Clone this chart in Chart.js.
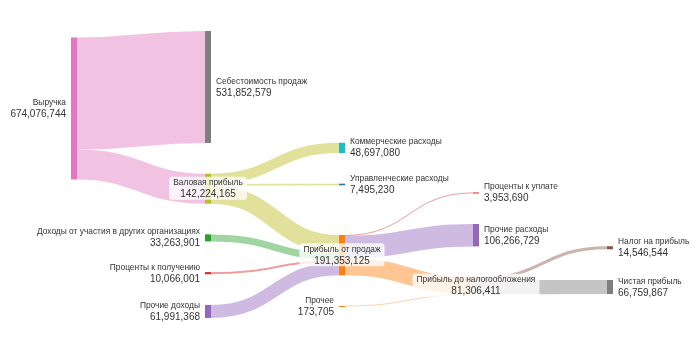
<!DOCTYPE html>
<html>
<head>
<meta charset="utf-8">
<script src="https://cdn.jsdelivr.net/npm/chart.js@4.4.1/dist/chart.umd.min.js"></script>
<style>
  body { margin: 0; background: #fff; }
  #wrap { width: 700px; height: 350px; }
</style>
</head>
<body>
<div id="wrap"><canvas id="sankeyCanvas"></canvas></div>
<script>
// Nodes of the P&L flow
const nodeNames = [
  'Выручка',
  'Себестоимость продаж',
  'Валовая прибыль',
  'Коммерческие расходы',
  'Управленческие расходы',
  'Прибыль от продаж',
  'Доходы от участия в других организациях',
  'Проценты к получению',
  'Прочие доходы',
  'Проценты к уплате',
  'Прочие расходы',
  'Прибыль до налогообложения',
  'Прочее',
  'Налог на прибыль',
  'Чистая прибыль'
];

// Links: source index, target index, value
const linkSources = [0, 0, 2, 2, 2, 6, 7, 8, 5, 5, 5, 12, 11, 11];
const linkTargets = [1, 2, 3, 4, 5, 5, 5, 5, 9, 10, 11, 11, 13, 14];
const linkValues = [
  531852579, 142224165,
  48697080, 7495230, 86031855,
  33263901, 10066001, 61991368,
  3953690, 106266729, 81132706,
  173705,
  14546544, 66759867
];

// Styles
const nodeColors = [
  '#e377c2', '#7f7f7f', '#bcbd22', '#17becf', '#1f77b4', '#ff7f0e', '#2ca02c',
  '#d62728', '#9467bd', '#d62728', '#9467bd', '#c7c7c7', '#ff7f0e', '#8c564b', '#7f7f7f'
];
const linkColors = [
  'rgba(227,119,194,0.45)', 'rgba(227,119,194,0.45)',
  'rgba(188,189,34,0.45)', 'rgba(188,189,34,0.45)', 'rgba(188,189,34,0.45)',
  'rgba(44,160,44,0.45)', 'rgba(214,39,40,0.45)', 'rgba(148,103,189,0.45)',
  'rgba(214,39,40,0.45)', 'rgba(148,103,189,0.45)', 'rgba(255,127,14,0.45)',
  'rgba(255,127,14,0.35)',
  'rgba(140,86,75,0.45)', 'rgba(127,127,127,0.45)'
];

const NODE_WIDTH = 6;      // px
const NODE_PAD = 0.107;    // fraction of the vertical extent
const LINK_SPREAD = 0;     // spread of links when relaxing
const ITERATIONS = 6;
const FONT = '"Liberation Sans", Arial, sans-serif';

const sum = (arr, f) => arr.reduce((s, d) => s + f(d), 0);

// Small d3-sankey style layout, done in value units (nodes keep input order in a column)
function buildSankey() {
  const nodes = nodeNames.map((name, i) => ({ index: i, name, color: nodeColors[i], sourceLinks: [], targetLinks: [] }));
  const links = linkValues.map((value, i) => ({
    index: i, value, color: linkColors[i],
    source: nodes[linkSources[i]], target: nodes[linkTargets[i]]
  }));
  links.forEach(l => { l.source.sourceLinks.push(l); l.target.targetLinks.push(l); });
  nodes.forEach(n => {
    n.value = Math.max(sum(n.sourceLinks, l => l.value), sum(n.targetLinks, l => l.value));
  });

  let current = new Set(nodes), depth = 0;
  while (current.size) {
    const next = new Set();
    current.forEach(n => { n.depth = depth; n.sourceLinks.forEach(l => next.add(l.target)); });
    current = next;
    depth++;
  }
  const nCols = Math.max(...nodes.map(n => n.depth)) + 1;
  // center alignment
  nodes.forEach(n => {
    n.layer = n.targetLinks.length ? n.depth
      : n.sourceLinks.length ? Math.min(...n.sourceLinks.map(l => l.target.depth)) - 1 : 0;
  });
  const columns = Array.from({ length: nCols }, () => []);
  nodes.forEach(n => columns[n.layer].push(n));

  const H = Math.max(...columns.map(c => sum(c, n => n.value) / (1 - (c.length - 1) * NODE_PAD)));
  const py = NODE_PAD * H;
  const ps = py * LINK_SPREAD;

  const byY = (a, b) => a.y0 - b.y0;
  const bySource = (a, b) => byY(a.source, b.source) || a.index - b.index;
  const byTarget = (a, b) => byY(a.target, b.target) || a.index - b.index;

  function reorderLinks(col) {
    col.forEach(n => { n.sourceLinks.sort(byTarget); n.targetLinks.sort(bySource); });
  }
  function reorderNodeLinks(n) {
    n.targetLinks.forEach(l => l.source.sourceLinks.sort(byTarget));
    n.sourceLinks.forEach(l => l.target.targetLinks.sort(bySource));
  }
  function targetTop(source, target) {
    let y = source.y0 - (source.sourceLinks.length - 1) * ps / 2;
    for (const l of source.sourceLinks) { if (l.target === target) break; y += l.width + ps; }
    for (const l of target.targetLinks) { if (l.source === source) break; y -= l.width; }
    return y;
  }
  function sourceTop(source, target) {
    let y = target.y0 - (target.targetLinks.length - 1) * ps / 2;
    for (const l of target.targetLinks) { if (l.source === source) break; y += l.width + ps; }
    for (const l of source.sourceLinks) { if (l.target === target) break; y -= l.width; }
    return y;
  }
  function topToBottom(col, y, i, alpha) {
    for (; i < col.length; ++i) {
      const n = col[i];
      const dy = (y - n.y0) * alpha;
      if (dy > 1e-6) { n.y0 += dy; n.y1 += dy; }
      y = n.y1 + py;
    }
  }
  function bottomToTop(col, y, i, alpha) {
    for (; i >= 0; --i) {
      const n = col[i];
      const dy = (n.y1 - y) * alpha;
      if (dy > 1e-6) { n.y0 -= dy; n.y1 -= dy; }
      y = n.y0 - py;
    }
  }
  function resolveCollisions(col, alpha) {
    const i = col.length >> 1;
    const subject = col[i];
    bottomToTop(col, subject.y0 - py, i - 1, alpha);
    topToBottom(col, subject.y1 + py, i + 1, alpha);
    bottomToTop(col, H, col.length - 1, alpha);
    topToBottom(col, 0, 0, alpha);
  }

  // initial breadths
  columns.forEach(col => {
    let y = 0;
    col.forEach(n => {
      n.y0 = y; n.y1 = y + n.value; y = n.y1 + py;
      n.sourceLinks.forEach(l => { l.width = l.value; });
    });
    const extra = (H - y + py) / (col.length + 1);
    col.forEach((n, i) => { n.y0 += extra * (i + 1); n.y1 += extra * (i + 1); });
    reorderLinks(col);
  });

  function relaxLeftToRight(alpha, beta) {
    for (let i = 1; i < columns.length; ++i) {
      const col = columns[i];
      col.forEach(t => {
        let y = 0, w = 0;
        t.targetLinks.forEach(l => {
          const v = l.value * (t.layer - l.source.layer);
          y += targetTop(l.source, t) * v; w += v;
        });
        if (!(w > 0)) return;
        const dy = (y / w - t.y0) * alpha;
        t.y0 += dy; t.y1 += dy;
        reorderNodeLinks(t);
      });
      resolveCollisions(col, beta);
    }
  }
  function relaxRightToLeft(alpha, beta) {
    for (let i = columns.length - 2; i >= 0; --i) {
      const col = columns[i];
      col.forEach(s => {
        let y = 0, w = 0;
        s.sourceLinks.forEach(l => {
          const v = l.value * (l.target.layer - s.layer);
          y += sourceTop(s, l.target) * v; w += v;
        });
        if (!(w > 0)) return;
        const dy = (y / w - s.y0) * alpha;
        s.y0 += dy; s.y1 += dy;
        reorderNodeLinks(s);
      });
      resolveCollisions(col, beta);
    }
  }

  for (let it = 0; it < ITERATIONS; ++it) {
    const alpha = Math.pow(0.99, it);
    const beta = Math.max(1 - alpha, (it + 1) / ITERATIONS);
    relaxLeftToRight(alpha, beta);
    relaxRightToLeft(alpha, beta);
  }

  // link breadths
  nodes.forEach(n => {
    let a = n.y0, b = n.y0;
    n.sourceLinks.forEach(l => { l.y0 = a + l.width / 2; a += l.width; });
    n.targetLinks.forEach(l => { l.y1 = b + l.width / 2; b += l.width; });
  });

  return { nodes, links, H, nCols };
}

const graph = buildSankey();

function roundRect(ctx, x, y, w, h, r) {
  ctx.beginPath();
  ctx.moveTo(x + r, y);
  ctx.arcTo(x + w, y, x + w, y + h, r);
  ctx.arcTo(x + w, y + h, x, y + h, r);
  ctx.arcTo(x, y + h, x, y, r);
  ctx.arcTo(x, y, x + w, y, r);
  ctx.closePath();
}

const sankeyPlugin = {
  id: 'sankeyDraw',
  afterDatasetsDraw(chart) {
    const ctx = chart.ctx;
    const xs = chart.scales.x, ys = chart.scales.y;
    const wpx = v => Math.abs(ys.getPixelForValue(v) - ys.getPixelForValue(0));
    ctx.save();

    // links
    graph.links.forEach(l => {
      const x0 = xs.getPixelForValue(l.source.layer) + NODE_WIDTH;
      const x1 = xs.getPixelForValue(l.target.layer);
      const y0 = ys.getPixelForValue(l.y0), y1 = ys.getPixelForValue(l.y1);
      const xm = (x0 + x1) / 2;
      ctx.beginPath();
      ctx.moveTo(x0, y0);
      ctx.bezierCurveTo(xm, y0, xm, y1, x1, y1);
      ctx.strokeStyle = l.color;
      ctx.lineWidth = Math.max(1, wpx(l.width));
      ctx.stroke();
    });

    // nodes
    graph.nodes.forEach(n => {
      const x = xs.getPixelForValue(n.layer);
      const top = ys.getPixelForValue(n.y0);
      const h = Math.max(1, wpx(n.value));
      ctx.fillStyle = n.color;
      ctx.fillRect(x, top, NODE_WIDTH, h);
    });

    // labels
    const nameFont = '8.4px ' + FONT, valueFont = '10px ' + FONT;
    graph.nodes.forEach(n => {
      const x = xs.getPixelForValue(n.layer);
      const cy = ys.getPixelForValue((n.y0 + n.y1) / 2);
      const valueText = n.value.toLocaleString('en-US');
      let tx, align;
      if (!n.targetLinks.length) { tx = x - 5; align = 'right'; }
      else if (!n.sourceLinks.length) { tx = x + NODE_WIDTH + 5; align = 'left'; }
      else {
        tx = x + NODE_WIDTH / 2; align = 'center';
        ctx.font = nameFont;
        const w1 = ctx.measureText(n.name).width;
        ctx.font = valueFont;
        const w2 = ctx.measureText(valueText).width;
        const bw = Math.max(w1, w2) + 8;
        ctx.fillStyle = 'rgba(255,255,255,0.78)';
        roundRect(ctx, tx - bw / 2, cy - 12, bw, 23, 3);
        ctx.fill();
      }
      ctx.textAlign = align;
      ctx.textBaseline = 'alphabetic';
      ctx.fillStyle = '#333';
      ctx.font = nameFont;
      ctx.fillText(n.name, tx, cy - 3.5);
      ctx.font = valueFont;
      ctx.fillText(valueText, tx, cy + 8.5);
    });
    ctx.restore();
  }
};

new Chart(document.getElementById('sankeyCanvas').getContext('2d'), {
  type: 'scatter',
  data: { datasets: [{ data: [] }] },
  options: {
    responsive: true,
    maintainAspectRatio: false,
    animation: false,
    layout: { padding: { left: 71, right: 93, top: 31, bottom: 32 } },
    scales: {
      x: { type: 'linear', min: 0, max: graph.nCols - 1, display: false },
      y: { type: 'linear', min: 0, max: graph.H, reverse: true, display: false }
    },
    plugins: { legend: { display: false }, tooltip: { enabled: false } }
  },
  plugins: [sankeyPlugin]
});
</script>
</body>
</html>
